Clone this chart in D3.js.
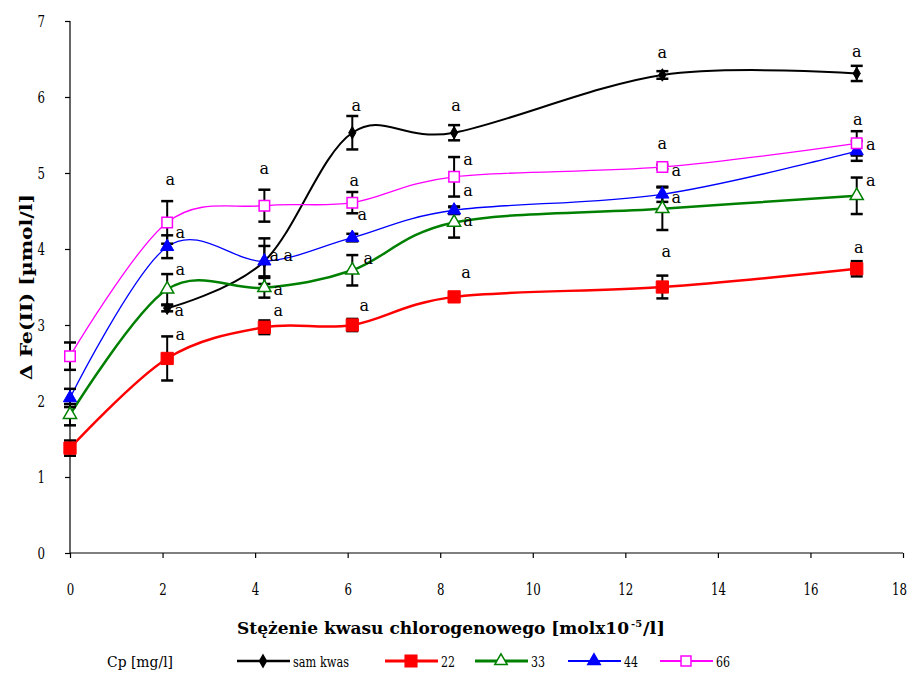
<!DOCTYPE html>
<html><head><meta charset="utf-8">
<script src="https://cdn.jsdelivr.net/npm/d3@7"></script>
<style>body{margin:0;background:#fff}svg{display:block}</style>
</head><body><svg id="c" width="912" height="675"></svg>
<script>
const xValues = [0, 2.1, 4.2, 6.1, 8.3, 12.8, 17];
const seriesNames = ["sam kwas", "22", "33", "44", "66"];
const samKwas = [null, 3.22, 3.84, 5.53, 5.53, 6.29, 6.31];
const samKwasErr = [null, 0.04, 0.2, 0.22, 0.1, 0.05, 0.1];
const cp22 = [1.38, 2.56, 2.97, 3.0, 3.37, 3.5, 3.74];
const cp22Err = [0.1, 0.29, 0.09, 0.08, 0.03, 0.15, 0.1];
const cp33 = [1.82, 3.47, 3.49, 3.72, 4.35, 4.53, 4.7];
const cp33Err = [0.14, 0.2, 0.13, 0.2, 0.2, 0.28, 0.24];
const cp44 = [2.04, 4.03, 3.84, 4.15, 4.51, 4.72, 5.29];
const cp44Err = [0.12, 0.15, 0.3, 0.05, 0.05, 0.1, 0.13];
const cp66 = [2.59, 4.35, 4.57, 4.61, 4.95, 5.08, 5.39];
const cp66Err = [0.18, 0.28, 0.21, 0.14, 0.26, 0.03, 0.16];
const xTicks = [0, 2, 4, 6, 8, 10, 12, 14, 16, 18];
const yTicks = [0, 1, 2, 3, 4, 5, 6, 7];
const letters = "a";

const FONT = "DejaVu Serif";
const svg = d3.select("#c");
const x = d3.scaleLinear().domain([0, 18]).range([70, 903]);
const y = d3.scaleLinear().domain([0, 7]).range([553, 21]);

const series = [
  {name: seriesNames[0], v: samKwas, e: samKwasErr, color: "#000", w: 2, sym: d3.symbolDiamond, size: 45, fill: "#000",
   lab: [null, [12, 8], [10, 0], [4, -22], [2, -22], [0, -17], [0, -16]]},
  {name: seriesNames[1], v: cp22, e: cp22Err, color: "#f00", w: 2.5, sym: d3.symbolSquare, size: 150, fill: "#f00",
   lab: [null, [13, -18], [14, -11], [12, -14], [12, -19], [4, -30], [2, -16]]},
  {name: seriesNames[2], v: cp33, e: cp33Err, color: "#008000", w: 2.5, sym: d3.symbolTriangle, size: 75, fill: "#fff",
   lab: [null, [13, -14], [14, 7], [16, -6], [14, 4], [14, -6], [14, -10]]},
  {name: seriesNames[3], v: cp44, e: cp44Err, color: "#0000ff", w: 1.3, sym: d3.symbolTriangle, size: 75, fill: "#00f",
   lab: [null, [13, -9], [24, 0], [10, -18], [14, -14], [14, -18], [14, -1]]},
  {name: seriesNames[4], v: cp66, e: cp66Err, color: "#ff00ff", w: 1.3, sym: d3.symbolSquare, size: 110, fill: "#fff",
   lab: [null, [3, -37], [0, -32], [2, -17], [14, -12], [0, -18], [1, -18]]}
];

const gx = svg.append("g").attr("transform", "translate(0,553)")
  .call(d3.axisBottom(x).tickValues(xTicks).tickSize(5).tickPadding(26).tickFormat(d3.format("d")));
const gy = svg.append("g").attr("transform", "translate(70,0)")
  .call(d3.axisLeft(y).tickValues(yTicks).tickSize(5).tickPadding(20).tickFormat(d3.format("d")));
[gx, gy].forEach(g => {
  g.attr("font-family", FONT);
  g.selectAll("path,line").attr("stroke", "#000").attr("stroke-width", 1.2);
  g.selectAll("path.domain").attr("d", null);
  g.selectAll("text").attr("font-size", 16).attr("fill", "#000")
    .attr("textLength", d => String(d).length * 7.5).attr("lengthAdjust", "spacingAndGlyphs");
});
gx.selectAll("text").filter(d => d === 18).attr("dx", -4);
svg.append("line").attr("x1", 70).attr("x2", 903).attr("y1", 553).attr("y2", 553).attr("stroke", "#000").attr("stroke-width", 1.2);
svg.append("line").attr("x1", 70).attr("x2", 70).attr("y1", 21).attr("y2", 553).attr("stroke", "#000").attr("stroke-width", 1.2);

svg.append("text").attr("transform", "translate(32,287) rotate(-90)").attr("text-anchor", "middle")
  .attr("font-family", FONT).attr("font-size", 16).attr("font-weight", "bold")
  .attr("textLength", 186).attr("lengthAdjust", "spacingAndGlyphs").text("Δ Fe(II) [µmol/l]");
svg.append("text").attr("x", 237).attr("y", 634)
  .attr("font-family", FONT).attr("font-size", 16).attr("font-weight", "bold")
  .attr("textLength", 392).attr("lengthAdjust", "spacingAndGlyphs")
  .text("Stężenie kwasu chlorogenowego [molx10");
svg.append("text").attr("x", 631).attr("y", 627).attr("font-family", FONT).attr("font-size", 10)
  .attr("font-weight", "bold").text("-5");
svg.append("text").attr("x", 643).attr("y", 634).attr("font-family", FONT).attr("font-size", 16)
  .attr("font-weight", "bold").attr("textLength", 22).attr("lengthAdjust", "spacingAndGlyphs").text("/l]");

const line = d3.line().x(d => x(d.x)).y(d => y(d.v)).curve(d3.curveCatmullRom.alpha(0));
series.forEach(s => {
  s.pts = xValues.map((xv, i) => ({x: xv, v: s.v[i], e: s.e[i], i})).filter(p => p.v != null);
  svg.append("path").datum(s.pts).attr("d", line).attr("fill", "none")
    .attr("stroke", s.color).attr("stroke-width", s.w);
});
series.forEach(s => {
  const g = svg.append("g").attr("stroke", "#000").attr("stroke-width", 2);
  s.pts.forEach(p => {
    g.append("line").attr("x1", x(p.x)).attr("x2", x(p.x)).attr("y1", y(p.v - p.e)).attr("y2", y(p.v + p.e));
    [p.v - p.e, p.v + p.e].forEach(v => g.append("line").attr("x1", x(p.x) - 6).attr("x2", x(p.x) + 6)
      .attr("y1", y(v)).attr("y2", y(v)).attr("stroke-width", 2.5));
  });
});
series.forEach(s => {
  svg.append("g").selectAll("path").data(s.pts).join("path")
    .attr("transform", p => `translate(${x(p.x)},${y(p.v)})`)
    .attr("d", d3.symbol().type(s.sym).size(s.size))
    .attr("fill", s.fill).attr("stroke", s.color).attr("stroke-width", s.fill === "#fff" ? 1.5 : 1);
});
series.forEach(s => {
  s.pts.forEach(p => {
    const o = s.lab[p.i];
    if (!o) return;
    svg.append("text").attr("x", x(p.x) + o[0]).attr("y", y(p.v) + o[1])
      .attr("text-anchor", "middle").attr("font-family", FONT).attr("font-size", 16).text(letters);
  });
});

const lg = svg.append("g").attr("font-family", FONT).attr("font-size", 14);
lg.append("text").attr("x", 107).attr("y", 667).attr("textLength", 66).attr("lengthAdjust", "spacingAndGlyphs").text("Cp [mg/l]");
const lx = [237, 385, 475, 568, 660];
series.forEach((s, i) => {
  const x0 = lx[i];
  lg.append("line").attr("x1", x0).attr("x2", x0 + 53).attr("y1", 661).attr("y2", 661)
    .attr("stroke", s.color).attr("stroke-width", s.w + 0.5);
  lg.append("path").attr("transform", `translate(${x0 + 26},661)`)
    .attr("d", d3.symbol().type(s.sym).size(s.size * 0.9))
    .attr("fill", s.fill).attr("stroke", s.color).attr("stroke-width", 1.5);
  lg.append("text").attr("x", x0 + 56).attr("y", 667)
    .attr("textLength", s.name.length * 7).attr("lengthAdjust", "spacingAndGlyphs").text(s.name);
});
</script></body></html>
